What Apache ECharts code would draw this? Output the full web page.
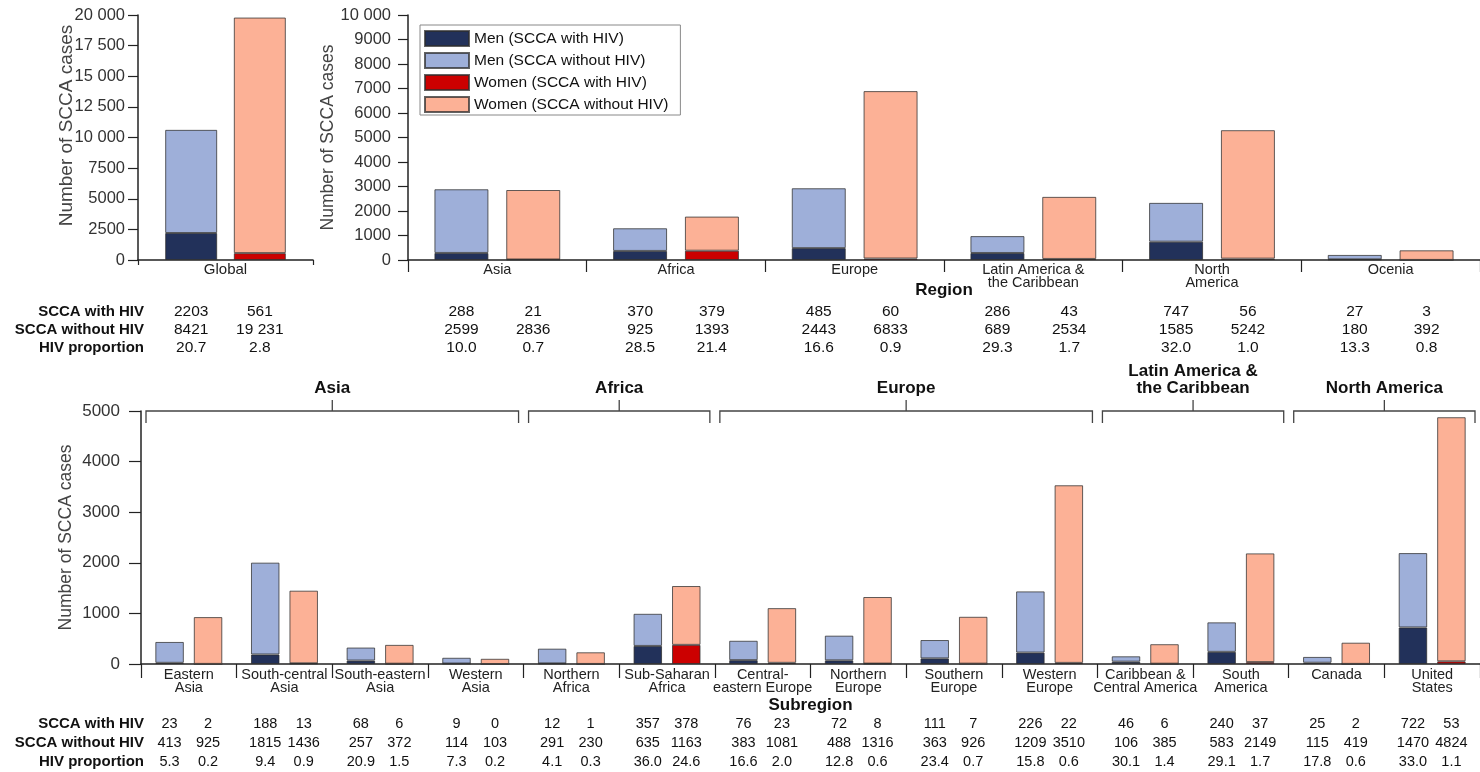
<!DOCTYPE html>
<html><head><meta charset="utf-8">
<script src="https://cdn.jsdelivr.net/npm/echarts@6/dist/echarts.min.js"></script>
<style>html,body{margin:0;padding:0;background:#fff}#c{width:1480px;height:772px}</style>
</head><body><div id="c"></div>
<script>
// ---------- DATA ----------
const seriesNames = ['Men (SCCA with HIV)', 'Men (SCCA without HIV)', 'Women (SCCA with HIV)', 'Women (SCCA without HIV)'];
const seriesColors = ['#22315a', '#9eafd9', '#cc0000', '#fcb196'];
const rowLabels = ['SCCA with HIV', 'SCCA without HIV', 'HIV proportion'];
const yAxisName = 'Number of SCCA cases';

const globalCategories = ['Global'];
const globalMenWithHIV = [2203];
const globalMenWithoutHIV = [8421];
const globalWomenWithHIV = [561];
const globalWomenWithoutHIV = [19231];
const globalMenProportion = [20.7];
const globalWomenProportion = [2.8];
const globalYMax = 20000, globalYInterval = 2500;

const regionCategories = ['Asia', 'Africa', 'Europe', 'Latin America &\nthe Caribbean', 'North\nAmerica', 'Ocenia'];
const regionMenWithHIV = [288, 370, 485, 286, 747, 27];
const regionMenWithoutHIV = [2599, 925, 2443, 689, 1585, 180];
const regionWomenWithHIV = [21, 379, 60, 43, 56, 3];
const regionWomenWithoutHIV = [2836, 1393, 6833, 2534, 5242, 392];
const regionMenProportion = [10.0, 28.5, 16.6, 29.3, 32.0, 13.3];
const regionWomenProportion = [0.7, 21.4, 0.9, 1.7, 1.0, 0.8];
const regionYMax = 10000, regionYInterval = 1000;

const subCategories = ['Eastern\nAsia', 'South-central\nAsia', 'South-eastern\nAsia', 'Western\nAsia', 'Northern\nAfrica', 'Sub-Saharan\nAfrica', 'Central-\neastern Europe', 'Northern\nEurope', 'Southern\nEurope', 'Western\nEurope', 'Caribbean &\nCentral America', 'South\nAmerica', 'Canada', 'United\nStates'];
const subMenWithHIV = [23, 188, 68, 9, 12, 357, 76, 72, 111, 226, 46, 240, 25, 722];
const subMenWithoutHIV = [413, 1815, 257, 114, 291, 635, 383, 488, 363, 1209, 106, 583, 115, 1470];
const subWomenWithHIV = [2, 13, 6, 0, 1, 378, 23, 8, 7, 22, 6, 37, 2, 53];
const subWomenWithoutHIV = [925, 1436, 372, 103, 230, 1163, 1081, 1316, 926, 3510, 385, 2149, 419, 4824];
const subMenProportion = [5.3, 9.4, 20.9, 7.3, 4.1, 36.0, 16.6, 12.8, 23.4, 15.8, 30.1, 29.1, 17.8, 33.0];
const subWomenProportion = [0.2, 0.9, 1.5, 0.2, 0.3, 24.6, 2.0, 0.6, 0.7, 0.6, 1.4, 1.7, 0.6, 1.1];
const subYMax = 5000, subYInterval = 1000;

const groupNames = ['Asia', 'Africa', 'Europe', 'Latin America &\nthe Caribbean', 'North America'];
const groupFirst = [0, 4, 6, 10, 12];
const groupLast = [3, 5, 9, 11, 13];

// ---------- CHART ----------
const FONT = '"Liberation Sans", Arial, Helvetica, sans-serif';
const chart = echarts.init(document.getElementById('c'), null, { renderer: 'canvas' });

const grids = [
  { left: 138, top: 15, width: 175, height: 245 },
  { left: 408, top: 15, width: 1072, height: 245 },
  { left: 141, top: 411, width: 1339, height: 253 }
];
const barW = [52, 54, 28.5];
const barGapPct = [0.32, 0.33, 0.35];

function fmtNum(v) {
  return v >= 10000 ? String(v).replace(/\B(?=(\d{3})+(?!\d))/g, ' ') : String(v);
}

function makeY(gi, max, interval, tickLen, margin, nameGap, labelSize, nameSize, namePad) {
  return {
    gridIndex: gi, type: 'value', min: 0, max: max, interval: interval,
    splitLine: { show: false },
    axisLine: { show: true, lineStyle: { color: '#222', width: 1.5 } },
    axisTick: { show: true, length: tickLen, lineStyle: { color: '#222', width: 1.2 } },
    axisLabel: { fontSize: labelSize, color: '#333', margin: margin, fontFamily: FONT, formatter: fmtNum },
    name: yAxisName, nameLocation: 'middle', nameGap: nameGap, nameMoveOverlap: false,
    nameTextStyle: { fontSize: nameSize, color: '#444', fontFamily: FONT, padding: namePad }
  };
}
function makeX(gi, data, tickLen, name, nameGap, labelSize, margin) {
  return {
    gridIndex: gi, type: 'category', data: data,
    axisLine: { show: true, onZero: false, lineStyle: { color: '#222', width: 1.5 } },
    axisTick: { show: true, length: tickLen, lineStyle: { color: '#222', width: 1.2 } },
    axisLabel: { interval: 0, fontSize: labelSize, color: '#222', margin: margin, lineHeight: 12.5, fontFamily: FONT },
    name: name, nameLocation: 'middle', nameGap: nameGap, nameMoveOverlap: false,
    nameTextStyle: { fontSize: 17, fontWeight: 'bold', color: '#111', fontFamily: FONT }
  };
}
function makeBars(gi, arrays) {
  return arrays.map(function (d, k) {
    return {
      name: seriesNames[k], type: 'bar', xAxisIndex: gi, yAxisIndex: gi,
      stack: (k < 2 ? 'men' : 'women') + gi, data: d,
      barWidth: barW[gi], barGap: Math.round(barGapPct[gi] * 100) + '%',
      itemStyle: { color: seriesColors[k], borderColor: 'rgba(45,45,45,0.75)', borderWidth: 1 },
      emphasis: { disabled: true }
    };
  });
}

const option = {
  animation: false,
  backgroundColor: '#fff',
  grid: grids,
  legend: {
    data: seriesNames, orient: 'vertical', left: 420, top: 25,
    itemWidth: 44, itemHeight: 15, itemGap: 5, padding: [5, 12, 2, 4],
    borderColor: '#888', borderWidth: 1, selectedMode: false, icon: 'rect',
    textStyle: { fontSize: 15.5, color: '#111', fontFamily: FONT }
  },
  xAxis: [
    makeX(0, globalCategories, 5, '', 0, 15, 4),
    makeX(1, regionCategories, 12, 'Region', 22, 14.5, 4),
    makeX(2, subCategories, 14, 'Subregion', 33, 14.5, 5)
  ],
  yAxis: [
    makeY(0, globalYMax, globalYInterval, 10, 13, 62, 16.5, 19, [0, 0, 0, 24]),
    makeY(1, regionYMax, regionYInterval, 10, 17, 71, 16.5, 17.5, 0),
    makeY(2, subYMax, subYInterval, 12, 21, 66, 17, 17.5, 0)
  ],
  series: [].concat(
    makeBars(0, [globalMenWithHIV, globalMenWithoutHIV, globalWomenWithHIV, globalWomenWithoutHIV]),
    makeBars(1, [regionMenWithHIV, regionMenWithoutHIV, regionWomenWithHIV, regionWomenWithoutHIV]),
    makeBars(2, [subMenWithHIV, subMenWithoutHIV, subWomenWithHIV, subWomenWithoutHIV])
  )
};
chart.setOption(option);

// ---------- TABLES & BRACKETS (positions from the axes) ----------
const graphics = [];
function txt(x, y, s, size, bold, align, valign, lh) {
  graphics.push({
    type: 'text', x: x, y: y, silent: true,
    style: {
      text: s, fontSize: size, fontFamily: FONT, fontWeight: bold ? 'bold' : 'normal',
      fill: '#111', align: align, textAlign: align, verticalAlign: valign, textVerticalAlign: valign,
      lineHeight: lh || size
    }
  });
}
function barCenters(gi, n) {
  const off = (barW[gi] + barW[gi] * barGapPct[gi]) / 2;
  const out = [];
  for (let i = 0; i < n; i++) {
    const c = chart.convertToPixel({ xAxisIndex: gi }, i);
    out.push([c - off, c + off]);
  }
  return out;
}
function table(gi, rowsY, menHIV, menNo, womenHIV, womenNo, menP, womenP, size) {
  const centers = barCenters(gi, menHIV.length);
  const rows = [[menHIV, womenHIV, fmtNum], [menNo, womenNo, fmtNum], [menP, womenP, function (v) { return v.toFixed(1); }]];
  rows.forEach(function (r, ri) {
    centers.forEach(function (c, i) {
      txt(c[0], rowsY[ri], r[2](r[0][i]), size, false, 'center', 'middle');
      txt(c[1], rowsY[ri], r[2](r[1][i]), size, false, 'center', 'middle');
    });
  });
}
const topRows = [312, 330, 348];
const botRows = [724, 743, 762];
rowLabels.forEach(function (l, i) {
  txt(144, topRows[i], l, 15, true, 'right', 'middle');
  txt(144, botRows[i], l, 15, true, 'right', 'middle');
});
table(0, topRows, globalMenWithHIV, globalMenWithoutHIV, globalWomenWithHIV, globalWomenWithoutHIV, globalMenProportion, globalWomenProportion, 15.5);
table(1, topRows, regionMenWithHIV, regionMenWithoutHIV, regionWomenWithHIV, regionWomenWithoutHIV, regionMenProportion, regionWomenProportion, 15.5);
table(2, botRows, subMenWithHIV, subMenWithoutHIV, subWomenWithHIV, subWomenWithoutHIV, subMenProportion, subWomenProportion, 14.5);

// brackets
const bw2 = chart.convertToPixel({ xAxisIndex: 2 }, 1) - chart.convertToPixel({ xAxisIndex: 2 }, 0);
const yTop = chart.convertToPixel({ yAxisIndex: 2 }, subYMax);
groupNames.forEach(function (g, i) {
  const l = chart.convertToPixel({ xAxisIndex: 2 }, groupFirst[i]) - bw2 / 2 + 5;
  const r = chart.convertToPixel({ xAxisIndex: 2 }, groupLast[i]) + bw2 / 2 - 5;
  const m = (l + r) / 2;
  graphics.push({ type: 'polyline', silent: true, shape: { points: [[l, yTop + 12], [l, yTop], [r, yTop], [r, yTop + 12]] }, style: { stroke: '#444', lineWidth: 1.3, fill: null } });
  graphics.push({ type: 'line', silent: true, shape: { x1: m, y1: yTop, x2: m, y2: yTop - 11 }, style: { stroke: '#444', lineWidth: 1.3 } });
  txt(m, yTop - 14, g, 17, true, 'center', 'bottom', 17);
});
chart.setOption({ graphic: graphics });
</script></body></html>
